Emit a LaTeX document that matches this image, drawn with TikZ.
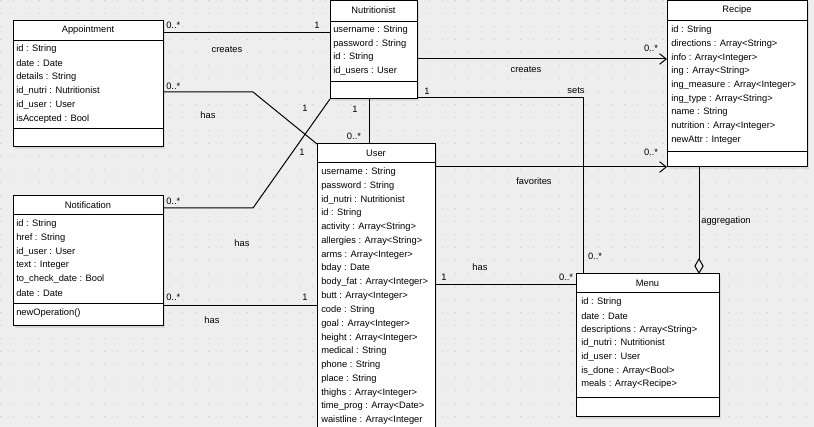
\documentclass[tikz,border=0pt]{standalone}
\usepackage{fontspec}
\setmainfont{Liberation Sans}
\usetikzlibrary{arrows.meta,calc}
\definecolor{bg}{RGB}{238,238,238}
\definecolor{dotc}{RGB}{200,200,200}
\definecolor{shad}{RGB}{218,218,218}
\begin{document}
\begin{tikzpicture}[x=0.75pt,y=-0.75pt,
  every node/.style={font=\fontsize{7pt}{8pt}\selectfont},
  cls/.style={draw=black,line width=0.75pt,fill=white,rectangle,inner sep=0pt,outer sep=0pt,anchor=north west},
  attr/.style={inner sep=0pt,anchor=west},
  title/.style={inner sep=0pt},
  lbl/.style={inner sep=0pt},
  conn/.style={line width=0.75pt,draw=black},
  nav/.style={conn,-{Straight Barb[length=5pt,width=8pt,line width=0.75pt]}},
  agg/.style={conn,-{Diamond[open,length=12pt,width=7pt,line width=0.75pt,fill=bg]}},
  sepl/.style={line width=0.75pt}]
\useasboundingbox (0,0) rectangle (814,427);
\fill[bg] (0,0) rectangle (814,427);
\foreach \gx in {0,13,...,806} \foreach \gy in {0,13,...,420}
  \fill[dotc] (\gx,\gy) rectangle ++(1,1);

% ---------- Appointment ----------
\fill[shad] (15,23) rectangle ++(150,126);
\node[cls,minimum width=112.5pt,minimum height=94.5pt] (appt) at (13,21) {};
\draw[sepl] (13,41) -- (163,41);
\draw[sepl] (13,129) -- (163,129);
\node[title] (appt-t) at (88,30) {Appointment};
\foreach \yy/\txt [count=\i] in {49/id : String,63/date : Date,77/details : String,91/id\_nutri : Nutritionist,105/id\_user : User,119/isAccepted : Bool}
  \node[attr] (appt-\i) at (16,\yy) {\txt};

% ---------- Notification ----------
\fill[shad] (15,198) rectangle ++(150,130);
\node[cls,minimum width=112.5pt,minimum height=97.5pt] (notif) at (13,196) {};
\draw[sepl] (13,215) -- (163,215);
\draw[sepl] (13,304) -- (163,304);
\node[title] (notif-t) at (88,205) {Notification};
\foreach \yy/\txt [count=\i] in {224/id : String,238/href : String,252/id\_user : User,265/text : Integer,279/to\_check\_date : Bool,293/date : Date}
  \node[attr] (notif-\i) at (16,\yy) {\txt};
\node[attr] (notif-op) at (16,313) {newOperation()};

% ---------- Nutritionist ----------
\fill[shad] (332,3) rectangle ++(87,98);
\node[cls,minimum width=65.25pt,minimum height=73.5pt] (nutri) at (330,1) {};
\draw[sepl] (330,22) -- (417,22);
\draw[sepl] (330,82) -- (417,82);
\node[title] (nutri-t) at (373.5,10) {Nutritionist};
\foreach \yy/\txt [count=\i] in {30/username : String,44/password : String,57/id : String,71/id\_users : User}
  \node[attr] (nutri-\i) at (333,\yy) {\txt};

% ---------- User ----------
\fill[shad] (319,146) rectangle ++(118,300);
\node[cls,minimum width=88.5pt,minimum height=225pt] (user) at (317,144) {};
\draw[sepl] (317,163) -- (435,163);
\node[title] (user-t) at (376,153) {User};
\foreach \yy/\txt [count=\i] in {172/username : String,186/password : String,200/id\_nutri : Nutritionist,213/id : String,227/activity : Array<String>,241/allergies : Array<String>,255/arms : Array<Integer>,268/bday : Date,282/body\_fat : Array<Integer>,296/butt : Array<Integer>,310/code : String,324/goal : Array<Integer>,338/height : Array<Integer>,351/medical : String,365/phone : String,379/place : String,393/thighs : Array<Integer>,406/time\_prog : Array<Date>,420/waistline : Array<Integer}
  \node[attr] (user-\i) at (321,\yy) {\txt};

% ---------- Recipe ----------
\fill[shad] (669,3) rectangle ++(140,166);
\node[cls,minimum width=105pt,minimum height=124.5pt] (recipe) at (667,1) {};
\draw[sepl] (667,21) -- (807,21);
\draw[sepl] (667,152) -- (807,152);
\node[title] (recipe-t) at (737,10) {Recipe};
\foreach \yy/\txt [count=\i] in {30/id : String,44/directions : Array<String>,58/info : Array<Integer>,71/ing : Array<String>,85/ing\_measure : Array<Integer>,99/ing\_type : Array<String>,112/name : String,126/nutrition : Array<Integer>,140/newAttr : Integer}
  \node[attr] (recipe-\i) at (671,\yy) {\txt};

% ---------- Menu ----------
\fill[shad] (578,276) rectangle ++(143,143);
\node[cls,minimum width=107.25pt,minimum height=107.25pt] (menu) at (576,274) {};
\draw[sepl] (576,293) -- (719,293);
\draw[sepl] (576,398) -- (719,398);
\node[title] (menu-t) at (647.5,283) {Menu};
\foreach \yy/\txt [count=\i] in {302/id : String,316/date : Date,330/descriptions : Array<String>,343/id\_nutri : Nutritionist,357/id\_user : User,371/is\_done : Array<Bool>,384/meals : Array<Recipe>}
  \node[attr] (menu-\i) at (581,\yy) {\txt};

% ---------- helper coordinates ----------
\coordinate (c1) at (0,33);
\coordinate (c2) at (0,92);
\coordinate (b2) at (253,92);
\coordinate (c3) at (0,208);
\coordinate (b3) at (253,208);
\coordinate (c4) at (0,306);
\coordinate (c5) at (369,0);
\coordinate (c6) at (0,59);
\coordinate (c7) at (0,98);
\coordinate (b7) at (583,98);
\coordinate (c8) at (0,167);
\coordinate (c9) at (0,285);
\coordinate (c10) at (699,0);

% ---------- connectors ----------
\draw[conn] (appt.east |- c1) -- (nutri.west |- c1);
\draw[conn] (appt.east |- c2) -- (b2) -- (user.north west);
\draw[conn] (notif.east |- c3) -- (b3) -- (nutri.south west);
\draw[conn] (notif.east |- c4) -- (user.west |- c4);
\draw[conn] (nutri.south -| c5) -- (user.north -| c5);
\draw[nav] (nutri.east |- c6) -- (recipe.west |- c6);
\draw[conn] (nutri.east |- c7) -- (b7) -- (menu.north -| b7);
\draw[nav] (user.east |- c8) -- (recipe.west |- c8);
\draw[conn] (user.east |- c9) -- (menu.west |- c9);
\draw[agg] (recipe.south -| c10) -- (menu.north -| c10);

% ---------- labels ----------
\node[lbl,anchor=west] (l1) at (166,25) {0..*};
\node[lbl] (l2) at (317,25) {1};
\node[lbl] (l3) at (227,50) {creates};
\node[lbl,anchor=west] (l4) at (166,86) {0..*};
\node[lbl] (l5) at (208,115) {has};
\node[lbl] (l6) at (302,152) {1};
\node[lbl] (l7) at (305,108) {1};
\node[lbl,anchor=west] (l8) at (166,201) {0..*};
\node[lbl] (l9) at (242,243) {has};
\node[lbl,anchor=west] (l10) at (166,297) {0..*};
\node[lbl] (l11) at (305,297) {1};
\node[lbl] (l12) at (212,320) {has};
\node[lbl] (l13) at (355,109) {1};
\node[lbl] (l14) at (354,136) {0..*};
\node[lbl] (l15) at (526,70) {creates};
\node[lbl] (l16) at (651,48) {0..*};
\node[lbl] (l17) at (427,91) {1};
\node[lbl] (l18) at (576,91) {sets};
\node[lbl] (l19) at (595,256) {0..*};
\node[lbl] (l20) at (534,181) {favorites};
\node[lbl] (l21) at (651,152) {0..*};
\node[lbl] (l22) at (480,267) {has};
\node[lbl] (l23) at (444,277) {1};
\node[lbl] (l24) at (566,277) {0..*};
\node[lbl] (l25) at (726,221) {aggregation};
\end{tikzpicture}
\end{document}
